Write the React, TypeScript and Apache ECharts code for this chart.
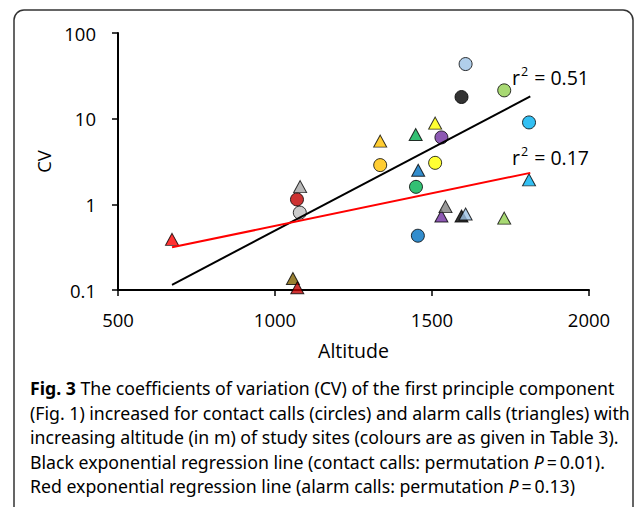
import React, { useEffect, useRef } from 'react';
import * as echarts from 'echarts';

// ---- data ----
const xTicks = [500, 1000, 1500, 2000];
const yTicks = [0.1, 1, 10, 100];

// contact calls (circles)
const contactAltitude = [1070, 1079, 1335, 1449, 1455, 1510, 1530, 1594, 1607, 1730, 1809];
const contactCV = [1.14, 0.8, 2.87, 1.6, 0.43, 3.05, 6.04, 17.9, 43.4, 21.4, 9.04];
const contactSite = ['darkred', 'lightgray', 'orange', 'green', 'blue', 'yellow', 'purple', 'black', 'lightblue', 'lightgreen', 'skyblue'];

// alarm calls (triangles)
const alarmAltitude = [672, 1057, 1071, 1080, 1335, 1448, 1456, 1510, 1530, 1543, 1594, 1607, 1730, 1809];
const alarmCV = [0.39, 0.136, 0.106, 1.61, 5.47, 6.54, 2.5, 8.87, 0.73, 0.94, 0.73, 0.77, 0.69, 1.93];
const alarmSite = ['red', 'brown', 'darkred', 'gray', 'orange', 'green', 'blue', 'yellow', 'purple', 'darkgray', 'black', 'lightblue', 'lightgreen', 'skyblue'];

// exponential regression lines (end points)
const trendAltitude = [672, 1813];
const contactTrend = [0.115, 18.2];
const alarmTrend = [0.315, 2.33];
const contactR2 = '0.51';
const alarmR2 = '0.17';

// ---- styles ----
const siteColors: Record<string, string> = {
  red: '#FF0000',
  brown: '#7F6000',
  darkred: '#C00000',
  gray: '#A6A6A6',
  lightgray: '#BFBFBF',
  orange: '#FFC000',
  green: '#00B050',
  blue: '#0070C0',
  yellow: '#FFFF00',
  purple: '#7030A0',
  darkgray: '#7F7F7F',
  black: '#000000',
  lightblue: '#9DC3E6',
  lightgreen: '#92D050',
  skyblue: '#00B0F0',
};

const chartFont = 'Open Sans';
const capFont = 'Noto Sans';
const capColor = '#3a3a3a';
const linkColor = '#3344DD';

function capRich(size: number) {
  return {
    n: { fontFamily: capFont, fontSize: size, color: capColor },
    b: { fontFamily: capFont, fontSize: size, color: '#222', fontWeight: 'bold' },
    l: { fontFamily: capFont, fontSize: size, color: linkColor },
    i: { fontFamily: capFont, fontSize: size, color: capColor, fontStyle: 'italic' },
  };
}

const captionLines = [
  '{b|Fig. 3}{n| The coefficients of variation (CV) of the first principle component}',
  '{n|(Fig. }{l|1}{n|) increased for contact calls (circles) and alarm calls (triangles) with}',
  '{n|increasing altitude (in m) of study sites (colours are as given in Table }{l|3}{n|).}',
  '{n|Black exponential regression line (contact calls: permutation }{i|P}{n|\u2009=\u20090.01).}',
  '{n|Red exponential regression line (alarm calls: permutation }{i|P}{n|\u2009=\u20090.13)}',
];

export default function App() {
  const ref = useRef<HTMLDivElement>(null);
  useEffect(() => {
    const chart = echarts.init(ref.current!, null, { renderer: 'svg' });
    const capSize = 17.7;
    const r2Rich = {
      a: { fontFamily: chartFont, fontSize: 19.5, color: '#000', lineHeight: 24 },
      s: { fontFamily: chartFont, fontSize: 12.5, color: '#000', verticalAlign: 'top', lineHeight: 24, padding: [0, 1, 8, 1] },
    };
    chart.setOption({
      animation: false,
      backgroundColor: '#ffffff',
      grid: { left: 118, right: 48, top: 33, bottom: 217, containLabel: false },
      xAxis: {
        type: 'value',
        min: 500,
        max: 2000,
        interval: 500,
        name: 'Altitude',
        nameLocation: 'middle',
        nameGap: 50,
        nameTextStyle: { fontFamily: chartFont, fontSize: 19.5, color: '#000' },
        axisLine: { show: true, onZero: false, lineStyle: { color: '#000', width: 2 } },
        axisTick: { show: true, length: 6, lineStyle: { color: '#000', width: 1.5 } },
        axisLabel: {
          fontFamily: chartFont,
          fontSize: 18.5,
          color: '#000',
          margin: 20,
          formatter: (v: number) => (xTicks.includes(v) ? String(v) : ''),
        },
        splitLine: { show: false },
      },
      yAxis: {
        type: 'log',
        logBase: 10,
        min: yTicks[0],
        max: yTicks[yTicks.length - 1],
        name: 'CV',
        nameLocation: 'middle',
        nameGap: 62,
        nameTextStyle: { fontFamily: chartFont, fontSize: 18.5, color: '#000' },
        axisLine: { show: true, onZero: false, lineStyle: { color: '#000', width: 2 } },
        axisTick: { show: true, length: 6, lineStyle: { color: '#000', width: 1.5 } },
        axisLabel: {
          fontFamily: chartFont,
          fontSize: 18.5,
          color: '#000',
          margin: 22,
          formatter: (v: number) => {
            const t = yTicks.find((k) => Math.abs(k - v) / k < 1e-6);
            return t === undefined ? '' : String(t);
          },
        },
        splitLine: { show: false },
      },
      series: [
        {
          type: 'line',
          data: trendAltitude.map((x, i) => [x, contactTrend[i]]),
          symbol: 'none',
          lineStyle: { color: '#000', width: 2 },
          z: 3,
          silent: true,
        },
        {
          type: 'line',
          data: trendAltitude.map((x, i) => [x, alarmTrend[i]]),
          symbol: 'none',
          lineStyle: { color: '#FF0000', width: 2 },
          z: 3,
          silent: true,
        },
        {
          type: 'scatter',
          name: 'Contact calls',
          symbol: 'circle',
          symbolSize: 13,
          clip: false,
          z: 2,
          data: contactAltitude.map((x, i) => ({
            value: [x, contactCV[i]],
            itemStyle: { color: siteColors[contactSite[i]], borderColor: '#000', borderWidth: 1 },
          })),
        },
        {
          type: 'scatter',
          name: 'Alarm calls',
          symbol: 'triangle',
          symbolSize: [13, 12],
          clip: false,
          z: 2,
          data: alarmAltitude.map((x, i) => ({
            value: [x, alarmCV[i]],
            itemStyle: { color: siteColors[alarmSite[i]], borderColor: '#000', borderWidth: 1 },
          })),
        },
      ],
      graphic: [
        {
          type: 'rect',
          shape: { x: 14, y: 10, width: 619, height: 520, r: 10 },
          style: { fill: 'none', stroke: '#333', lineWidth: 1.5 },
          z: 100,
          silent: true,
        },
        {
          type: 'text',
          x: 512,
          y: 77,
          style: { text: `{a|r}{s|2}{a| = ${contactR2}}`, rich: r2Rich, verticalAlign: 'middle' },
          z: 100,
        },
        {
          type: 'text',
          x: 512,
          y: 157,
          style: { text: `{a|r}{s|2}{a| = ${alarmR2}}`, rich: r2Rich, verticalAlign: 'middle' },
          z: 100,
        },
        ...captionLines.map((line, i) => ({
          type: 'text',
          x: 30,
          y: 388 + i * 24.5,
          style: { text: line, rich: capRich(capSize), verticalAlign: 'middle' },
          z: 100,
        })),
      ],
    });
    return () => chart.dispose();
  }, []);
  return <div ref={ref} style={{ position: 'absolute', left: 0, top: 0, width: 637, height: 507 }} />;
}
